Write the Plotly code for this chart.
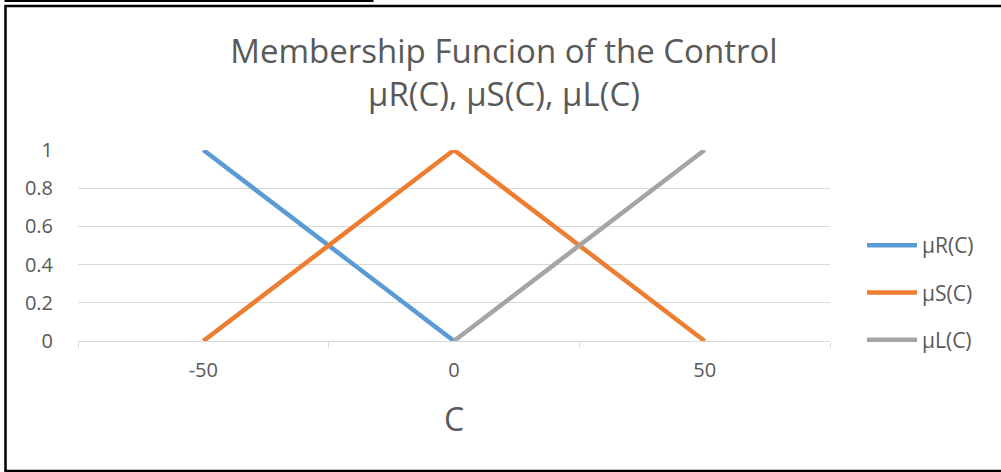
import plotly.graph_objects as go

# Data
categories = [-50, 0, 50]
mu_R = [1, 0, None]
mu_S = [0, 1, 0]
mu_L = [None, 0, 1]
series_names = ["µR(C)", "µS(C)", "µL(C)"]
colors = ["#5B9BD5", "#ED7D31", "#A5A5A5"]
y_ticks = [0, 0.2, 0.4, 0.6, 0.8, 1]
y_ticklabels = ["0", "0.2", "0.4", "0.6", "0.8", "1"]
x_ticks = [-50, 0, 50]
x_ticklabels = ["-50", "0", "50"]

W, H = 1001, 472
L_, R_, T_, B_ = 78, 171, 150, 131
PW = W - L_ - R_
PH = H - T_ - B_

def px(x):
    return (x - L_) / PW

def py(y):
    return (H - B_ - y) / PH

FONT = "Open Sans"
TXT = "#595959"

fig = go.Figure()
for name, vals, c in zip(series_names, [mu_R, mu_S, mu_L], colors):
    fig.add_trace(go.Scatter(x=categories, y=vals, mode="lines", name=name,
                             legendgroup=name,
                             line=dict(color=c, width=4.5), connectgaps=False))

shapes = [
    dict(type="rect", xref="paper", yref="paper",
         x0=px(5.5), x1=px(1004), y0=py(6), y1=py(471),
         line=dict(color="black", width=2.5), layer="above"),
    dict(type="line", xref="paper", yref="paper",
         x0=px(5), x1=px(373), y0=py(1), y1=py(1),
         line=dict(color="black", width=2)),
]
for xv in [5.5, 93, 203, 372.5]:
    shapes.append(dict(type="line", xref="paper", yref="paper",
                       x0=px(xv), x1=px(xv), y0=py(-2), y1=py(2),
                       line=dict(color="black", width=2)))

fig.update_layout(
    width=W, height=H,
    margin=dict(l=L_, r=R_, t=T_, b=B_, autoexpand=False),
    paper_bgcolor="white", plot_bgcolor="white",
    font=dict(family=FONT, color=TXT, size=20),
    title=dict(text="Membership Funcion of the Control<br>µR(C), µS(C), µL(C)",
               xref="container", x=504 / W, xanchor="center",
               yref="container", y=1 - 63 / H, yanchor="middle",
               font=dict(family=FONT, size=33, color=TXT)),
    xaxis=dict(range=[-75, 75], tickvals=x_ticks, ticktext=x_ticklabels,
               showgrid=False, zeroline=False, showline=True,
               linecolor="#D9D9D9", linewidth=1, ticks="",
               minor=dict(tickvals=[-75, -25, 25, 75], ticks="outside",
                          ticklen=6, tickcolor="#D9D9D9", tickwidth=1),
               tickfont=dict(size=20, color=TXT), ticklabelstandoff=11,
               title=dict(text="C", font=dict(size=32, color=TXT), standoff=26)),
    yaxis=dict(range=[0, 1], tickvals=y_ticks, ticktext=y_ticklabels,
               showgrid=True, gridcolor="#D9D9D9", gridwidth=1,
               zeroline=False, showline=False, ticks="",
               tickfont=dict(size=20, color=TXT), ticklabelstandoff=24),
    legend=dict(x=px(862), y=py(225), xanchor="left", yanchor="top",
                traceorder="grouped", tracegroupgap=17,
                font=dict(size=21, color=TXT), itemwidth=50,
                bgcolor="rgba(0,0,0,0)"),
    shapes=shapes,
    showlegend=True,
)

fig.write_html("out.html", post_script="document.body.style.margin='0';",
               config={"displayModeBar": False})
